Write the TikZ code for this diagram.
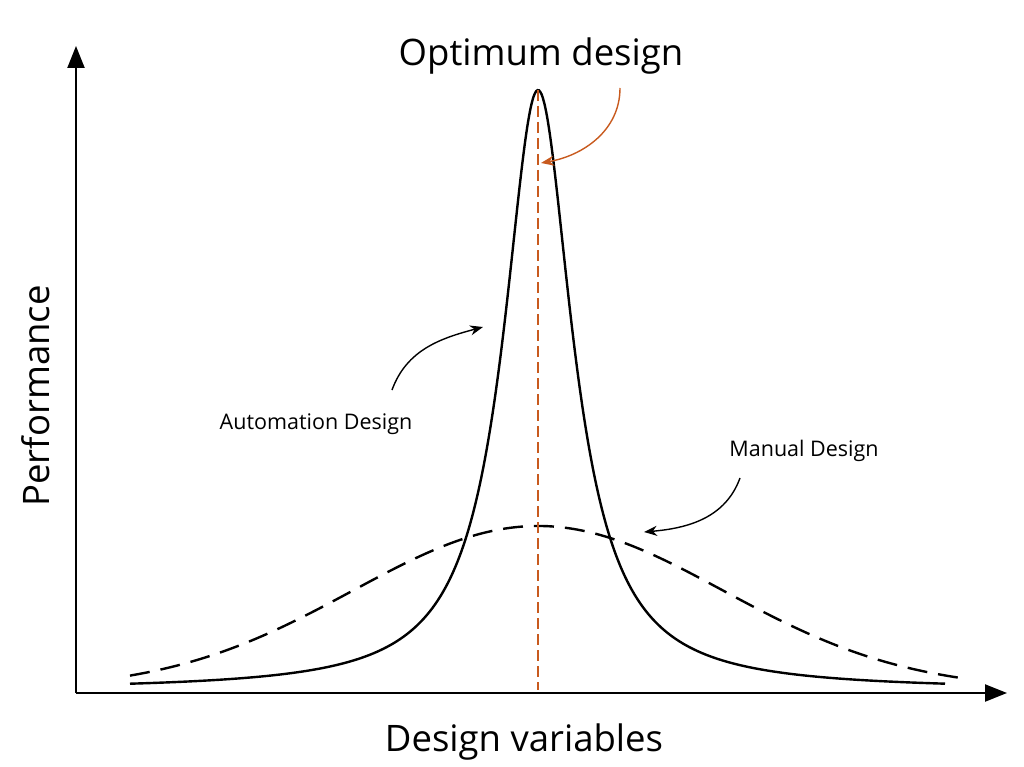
\documentclass[tikz,border=0pt]{standalone}
\usepackage{fontspec}
\setmainfont{Open Sans}
\usetikzlibrary{arrows.meta}
\definecolor{opt}{RGB}{200,90,30}
\tikzset{axis/.style={line width=2.2pt,-{Triangle[length=22pt,width=17pt]}},
 lbl/.style={font=\fontsize{21.5}{26}\selectfont},
 big/.style={font=\fontsize{36.5}{42}\selectfont},
 pointer/.style={line width=1.4pt,-{Stealth[length=13pt,width=10pt]}}}
\begin{document}
\begin{tikzpicture}[x=1pt,y=-1pt]
\useasboundingbox (0,0) rectangle (1024,767);
\coordinate (o) at (76,693);
\coordinate (ytop) at (76,46);
\coordinate (xend) at (1007,693);
\draw[axis] (o) -- (ytop);
\draw[axis] (o) -- (xend);
\draw[line width=2.4pt,domain=130:945,samples=300,smooth] plot (\x,{690-600/(1+((\x-538)/42)^2)});
\draw[line width=2.4pt,dash pattern=on 20pt off 11pt,domain=130:960,samples=120,smooth] plot (\x,{690-164*exp(-0.5*((\x-538)/185)^2)});
\draw[opt,line width=1.6pt,dash pattern=on 11pt off 5pt] (538,90) -- (538,690);
\node[big] (opttxt) at (541,56) {Optimum design};
\node[big] (xl) at (524,742) {Design variables};
\node[big,rotate=90] (yl) at (36,396) {Performance};
\node[lbl] (auto) at (316,424) {Automation Design};
\node[lbl] (man) at (804,451) {Manual Design};
\coordinate (a1) at (620,88); \coordinate (a2) at (541,163);
\draw[pointer,opt] (a1) to[out=-90,in=10] (a2);
\coordinate (b1) at (392,390); \coordinate (b2) at (483,327);
\draw[pointer] (b1) to[out=70,in=195] (b2);
\coordinate (c1) at (740,478); \coordinate (c2) at (644,532);
\draw[pointer] (c1) to[out=-110,in=5] (c2);
\end{tikzpicture}
\end{document}
